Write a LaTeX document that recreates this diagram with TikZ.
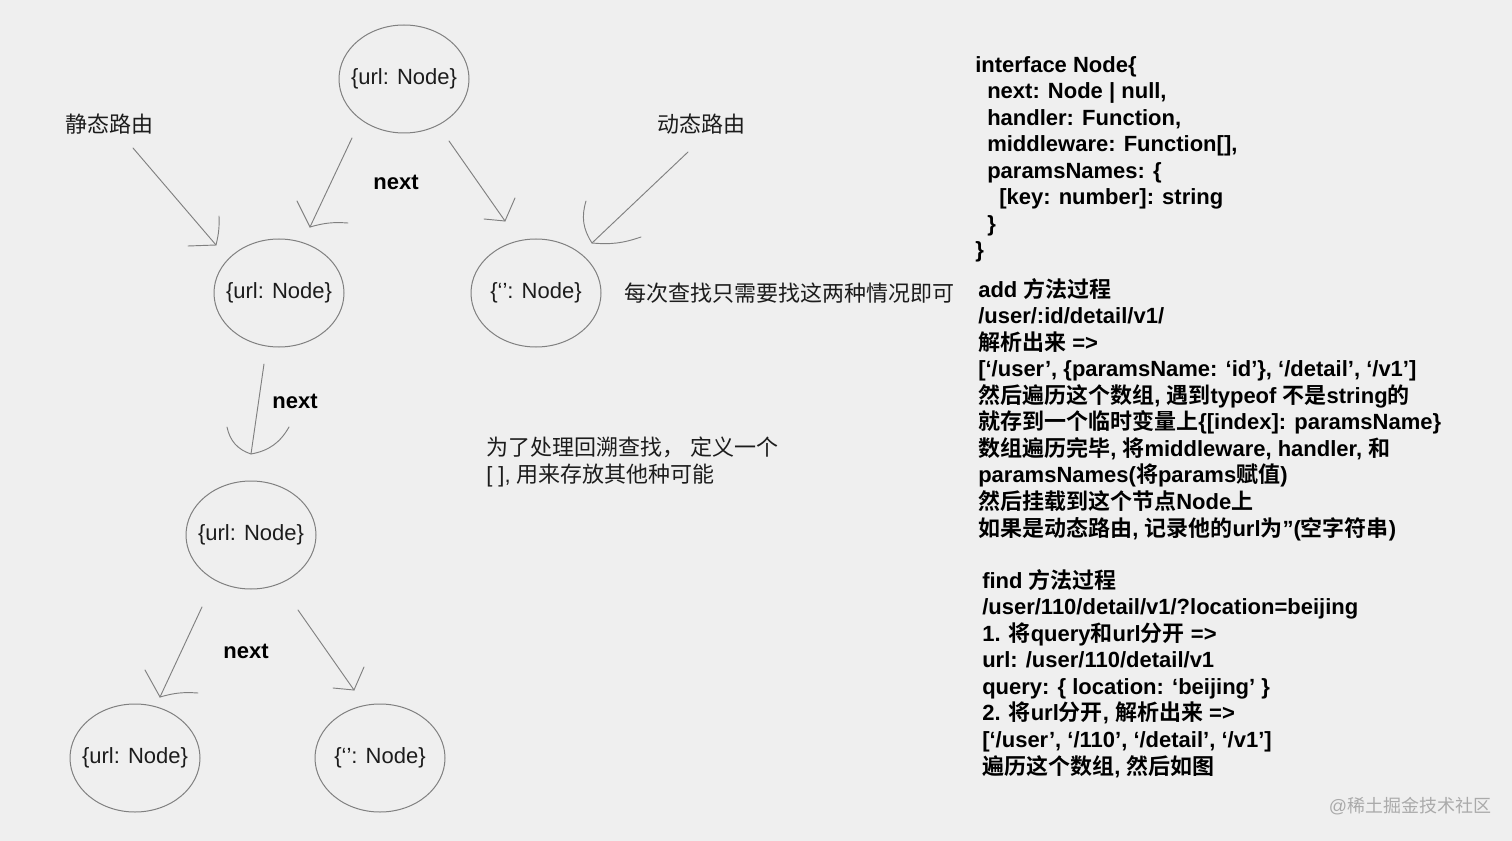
\documentclass[tikz,border=0pt]{standalone}
\usepackage{fontspec}
\setmainfont{Liberation Sans}
\newfontfamily\cjk[BoldFont={Noto Sans CJK SC Bold}]{Noto Sans CJK SC}
\usetikzlibrary{shapes.geometric}

% han characters switch to the cjk font by themselves
\XeTeXinterchartokenstate=1
\newXeTeXintercharclass\hanclass
\newcount\hancode
\newcommand\sethanrange[2]{\hancode=#1\relax
  \loop\XeTeXcharclass\hancode=\hanclass\advance\hancode by 1\relax
  \ifnum\hancode<#2\repeat}
\sethanrange{"4E00}{"A000}
\sethanrange{"3000}{"3040}
\sethanrange{"FF00}{"FFF0}
\XeTeXcharclass"2018=0 \XeTeXcharclass"2019=0
\XeTeXcharclass"201C=0 \XeTeXcharclass"201D=0
\XeTeXinterchartoks 0 \hanclass = {\begingroup\cjk}
\XeTeXinterchartoks 4095 \hanclass = {\begingroup\cjk}
\XeTeXinterchartoks \hanclass 0 = {\endgroup}
\XeTeXinterchartoks \hanclass 4095 = {\endgroup}

% keep the ellipse size from growing with its text
\newcommand\ovaltext[1]{\makebox[0pt]{#1}}

\definecolor{paper}{RGB}{239,239,239}
\definecolor{pencil}{RGB}{128,128,128}
\definecolor{ink}{RGB}{28,28,28}

\tikzset{
  urlnode/.style={ellipse, draw=pencil, line width=0.75pt, minimum width=97.5pt,
    minimum height=81pt, inner sep=0pt, text=ink, font=\fontsize{16.5}{20}\selectfont},
  link/.style={draw=pencil, line width=0.7pt, line cap=round},
  label/.style={anchor=west, inner sep=0pt, text=ink, font=\fontsize{16.5}{20}\selectfont},
  nextlabel/.style={inner sep=0pt, text=black, font=\bfseries\fontsize{16.5}{20}\selectfont},
  codeblock/.style={anchor=base west, inner sep=0pt, align=left, text=black,
    font=\bfseries\fontsize{16.5}{19.9}\selectfont},
}

\begin{document}
\begin{tikzpicture}[x=0.75pt, y=-0.75pt]
\fill[paper] (0,0) rectangle (1512,841);
\useasboundingbox (0,0) rectangle (1512,841);

% tree of nodes
\node[urlnode] (root) at (404,79) {\ovaltext{\{url: Node\}}};
\node[urlnode] (staticnode) at (279,293) {\ovaltext{\{url: Node\}}};
\node[urlnode] (dynamicnode) at (536,293) {\ovaltext{\{‘’: Node\}}};
\node[urlnode] (child) at (251,535) {\ovaltext{\{url: Node\}}};
\node[urlnode] (leafstatic) at (135,758) {\ovaltext{\{url: Node\}}};
\node[urlnode] (leafdynamic) at (380,758) {\ovaltext{\{‘’: Node\}}};

\node[label] (static) at (65,124) {静态路由};
\node[label] (dynamic) at (657,124) {动态路由};
\node[nextlabel] (next1) at (396,182) {next};
\node[nextlabel] (next2) at (295,401) {next};
\node[nextlabel] (next3) at (246,651) {next};
\node[label] (hint) at (624,293) {每次查找只需要找这两种情况即可};
\node[label, anchor=base west, align=left] (backtrack) at (486,482)
  {为了处理回溯查找， 定义一个\\{}[ ], 用来存放其他种可能};

% arrow ends
\coordinate (s1) at (133,148); \coordinate (t1) at (216,245);
\coordinate (s2) at (352,138); \coordinate (t2) at (310,227);
\coordinate (s3) at (449,141); \coordinate (t3) at (505,221);
\coordinate (s4) at (688,152); \coordinate (t4) at (592,243);
\coordinate (s5) at (264,364); \coordinate (t5) at (251,454);
\coordinate (s6) at (202,607); \coordinate (t6) at (160,697);
\coordinate (s7) at (298,610); \coordinate (t7) at (354,690);

\draw[link] (s1) -- (t1);
\draw[link] (t1) ++(-28,1) -- (t1) to[bend right=8] ++(3,-29);
\draw[link] (s2) -- (t2);
\draw[link] (t2) ++(-13,-26) -- (t2) to[bend left=10] ++(38,-4);
\draw[link] (s3) -- (t3);
\draw[link] (t3) ++(-21,-2) -- (t3) -- ++(10,-23);
\draw[link] (s4) -- (t4);
\draw[link] (t4) ++(-6,-42) to[bend right=25] (t4) to[bend right=12] ++(49,-6);
\draw[link] (s5) -- (t5);
\draw[link] (t5) ++(-24,-27) to[bend right=30] (t5) to[bend right=25] ++(38,-27);
\draw[link] (s6) -- (t6);
\draw[link] (t6) ++(-15,-27) -- (t6) to[bend left=10] ++(38,-4);
\draw[link] (s7) -- (t7);
\draw[link] (t7) ++(-21,-2) -- (t7) -- ++(10,-23);

% notes on the right (anchored at the last baseline)
\node[codeblock] (iface) at (975,258) {interface Node\{\\
\hspace*{9pt}next: Node | null,\\
\hspace*{9pt}handler: Function,\\
\hspace*{9pt}middleware: Function[],\\
\hspace*{9pt}paramsNames: \{\\
\hspace*{18pt}[key: number]: string\\
\hspace*{9pt}\}\\
\}};
\node[codeblock] (addsteps) at (978,536) {add 方法过程\\
/user/:id/detail/v1/\\
解析出来 =>\\
{}[‘/user’, \{paramsName: ‘id’\}, ‘/detail’, ‘/v1’]\\
然后遍历这个数组, 遇到typeof 不是string的\\
就存到一个临时变量上\{[index]: paramsName\}\\
数组遍历完毕, 将middleware, handler, 和\\
paramsNames(将params赋值)\\
然后挂载到这个节点Node上\\
如果是动态路由, 记录他的url为”(空字符串)};
\node[codeblock] (findsteps) at (982,774) {find 方法过程\\
/user/110/detail/v1/?location=beijing\\
1. 将query和url分开 =>\\
url: /user/110/detail/v1\\
query: \{ location: ‘beijing’ \}\\
2. 将url分开, 解析出来 =>\\
{}[‘/user’, ‘/110’, ‘/detail’, ‘/v1’]\\
遍历这个数组, 然后如图};

\node[text={rgb,255:red,170;green,170;blue,170}, font=\fontsize{13.5}{16}\selectfont] (mark) at (1410,806) {@稀土掘金技术社区};
\end{tikzpicture}
\end{document}
